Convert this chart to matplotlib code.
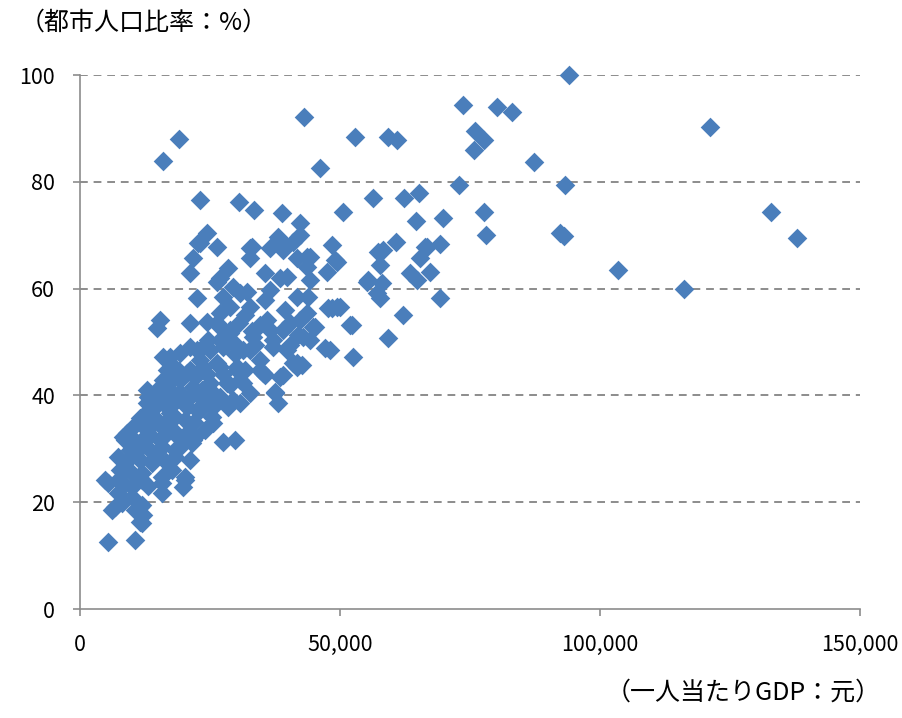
import matplotlib.pyplot as plt
from matplotlib.ticker import FuncFormatter

plt.rcParams['font.family'] = ['Noto Sans CJK JP', 'DejaVu Sans']

# per-capita GDP (yuan) and urban population ratio (%)
gdp = [
    94040, 73650, 80190, 83080, 75960, 77690, 75770, 52880, 59230, 60960,
    87300, 72880, 93270, 56340, 62310, 65190, 50580, 77690, 64610, 69810,
    78070, 92300, 93070, 60770, 58270, 66340, 69230, 121150, 132880, 137880,
    103460, 116150, 19040, 15960, 43080, 46150, 23080, 30580, 33460, 38850,
    42310, 24420, 22690, 26350, 33080, 38460, 40960, 48460, 36540, 57310,
    49040, 47500, 43650, 44230, 57690, 55380, 58080, 57690, 66730, 65380,
    67310, 63460, 64800, 69230, 62110, 59230, 48460, 50000, 52310, 45190,
    47110, 52500, 42690, 43650, 43850, 43650, 48080, 49420, 29810, 38080,
    37500, 41730, 39040, 35580, 30770, 31350,
    5380, 10580, 5380, 6730, 11920, 12110, 11920, 15770, 19810, 20190,
    15770, 8650, 9230, 21540, 25580, 27500, 8080, 10000, 7310, 11540, 11540,
    23080, 21730, 21150, 28460, 26920, 32690, 32690, 35580, 38080, 42310,
    39040, 22500, 15380, 14810, 29420, 32120, 27500, 21150, 26350, 32690,
    36540, 39810, 41730, 40380, 35960, 17310, 16730, 22500, 28850, 32690,
    37120, 41730, 26350, 30190, 34620, 20580, 39040, 42880, 24620,
    26350, 38460, 41730, 44230, 49420, 55190, 57110, 51920, 47690, 44810,
    41920, 40960, 38460, 35190, 37500, 21730, 15960, 17310, 12880, 13080,
    30770, 34620, 28850, 26920, 24420, 27500, 21150, 23080, 19230, 31350,
    33270, 37120, 39810, 30190, 26920, 23650, 18650, 15960, 14810, 12880,
    11920, 10190, 8270, 15960, 19230, 21730, 25000, 28270, 30770, 26920,
    23650, 20580, 17310, 14810, 12880, 17880, 15960, 10960, 22500, 25580,
    29420, 32690,
    10580, 13850, 17690, 20190, 15770, 11920, 8650, 7310, 12500, 15770,
    18270, 22120, 18850, 15000, 18270, 13850, 16350, 20190, 23460, 17690,
    22120, 28460, 25390, 10000, 11920, 7310, 4810, 6150, 10580,
    11540, 13460, 15380, 17310, 19230, 21150, 23080, 25000, 26920, 28850,
    17310, 20190, 23080, 25960, 28850, 31730, 34620, 15380, 13460, 11540,
    9620, 7690, 18270, 21150, 29810, 33650, 36540, 31730, 35580, 39420,
    42310, 44230, 40380,
    9000, 10500, 12000, 13500, 14500, 16500, 19500, 20500, 22000, 24000,
    26000, 19000, 17000, 14000, 10000, 8500, 13000, 16500, 18500, 21500,
    24500, 27500, 29500, 33000, 30500, 27000,
]
urban = [
    100.0, 94.4, 94.0, 93.1, 89.5, 87.8, 86.0, 88.4, 88.4, 87.8,
    83.7, 79.4, 79.4, 77.0, 77.0, 77.9, 74.3, 74.3, 72.7, 73.2,
    70.0, 70.4, 69.9, 68.7, 67.2, 67.8, 68.4, 90.3, 74.3, 69.5,
    63.5, 59.9, 88.0, 83.9, 92.1, 82.6, 76.6, 76.2, 74.7, 74.2,
    72.3, 70.4, 68.5, 67.8, 67.8, 69.1, 68.7, 68.2, 67.6, 66.9,
    65.4, 63.1, 65.9, 61.6, 64.4, 61.6, 61.0, 58.2, 67.8, 65.7,
    63.1, 62.9, 61.6, 58.2, 55.1, 50.7, 56.4, 56.6, 53.2, 52.8,
    48.9, 47.2, 45.7, 64.0, 58.4, 55.4, 48.5, 56.6, 31.6, 38.6,
    40.4, 45.3, 43.8, 43.8, 38.6, 42.3,
    12.5, 12.9, 23.6, 19.1, 16.1, 17.6, 19.5, 21.7, 22.8, 24.7,
    23.6, 31.6, 27.9, 31.1, 34.8, 31.3, 19.9, 21.0, 24.2, 19.1, 16.3,
    68.5, 65.7, 62.9, 63.9, 62.0, 67.6, 65.7, 62.9, 69.7, 70.0,
    67.2, 58.2, 54.1, 52.6, 60.3, 59.4, 58.4, 53.6, 53.6, 56.6,
    59.7, 62.2, 58.4, 53.6, 54.1, 47.2, 44.8, 48.5, 51.7, 48.5,
    49.1, 46.1, 46.1, 44.8, 44.8, 44.2, 52.2, 50.9, 50.4,
    61.2, 62.0, 65.7, 65.9, 65.0, 61.2, 59.2, 53.2, 56.4, 52.8,
    51.3, 46.1, 43.4, 44.2, 40.6, 31.6, 47.2, 46.1, 41.0, 39.7,
    59.2, 53.2, 56.6, 52.8, 53.7, 49.1, 49.1, 48.5, 47.9, 48.5,
    50.9, 50.4, 48.5, 45.3, 45.3, 45.3, 43.4, 42.9, 41.0, 38.6,
    36.0, 34.1, 32.2, 38.6, 40.4, 41.6, 42.3, 42.3, 42.9, 39.7,
    39.1, 37.8, 36.7, 35.4, 33.5, 33.5, 32.2, 31.1, 37.3, 37.8,
    39.1, 40.4,
    29.2, 27.3, 26.0, 24.2, 24.7, 25.5, 26.0, 28.5, 32.2, 30.3,
    28.5, 32.2, 32.2, 34.8, 36.0, 37.3, 39.7, 39.1, 41.0, 42.9,
    43.4, 37.8, 36.0, 22.8, 24.2, 21.7, 24.2, 18.5, 18.5,
    35.8, 37.5, 39.1, 41.0, 42.9, 44.8, 46.6, 48.5, 50.4, 52.2,
    33.5, 35.4, 37.3, 40.1, 41.9, 44.8, 46.6, 31.6, 29.8, 27.9,
    29.8, 26.0, 29.8, 27.9, 47.8, 49.4, 52.2, 55.1, 57.9, 56.0,
    54.1, 50.4, 49.4,
    33.0, 31.5, 30.5, 32.5, 28.5, 27.5, 30.5, 33.0, 35.0, 33.5,
    38.5, 44.5, 38.5, 35.5, 25.5, 23.5, 23.0, 35.0, 39.0, 40.0,
    44.0, 44.0, 50.0, 52.0, 53.5, 55.5,
]

x_ticks = [0, 50000, 100000, 150000]
y_ticks = [0, 20, 40, 60, 80, 100]

fig = plt.figure(figsize=(9.03, 7.18), dpi=100)
ax = fig.add_axes([0.0886, 0.1518, 0.8638, 0.7437])

ax.scatter(gdp, urban, marker='D', s=100, color='#4a7ebb', linewidths=0,
           zorder=3, clip_on=False)

ax.set_xlim(0, 150000)
ax.set_ylim(0, 100)
ax.set_xticks(x_ticks)
ax.set_yticks(y_ticks)
ax.xaxis.set_major_formatter(FuncFormatter(lambda v, p: f'{v:,.0f}'))

for yv in y_ticks[1:]:
    ax.axhline(yv, color='#8c8c8c', lw=1.4, ls=(0, (4, 3)), zorder=1)

for side in ['top', 'right']:
    ax.spines[side].set_visible(False)
for side in ['left', 'bottom']:
    ax.spines[side].set_color('#8c8c8c')
    ax.spines[side].set_linewidth(1.2)

ax.tick_params(axis='both', colors='#8c8c8c', labelcolor='black', labelsize=15.5, length=5, width=1.2)
ax.tick_params(axis='y', pad=13)
ax.tick_params(axis='x', pad=13)

fig.text(0.022, 0.969, '（都市人口比率：%）', fontsize=18, ha='left', va='center')
fig.text(0.975, 0.035, '（一人当たりGDP：元）', fontsize=18, ha='right', va='center')

fig.savefig('out.png', dpi=100)
